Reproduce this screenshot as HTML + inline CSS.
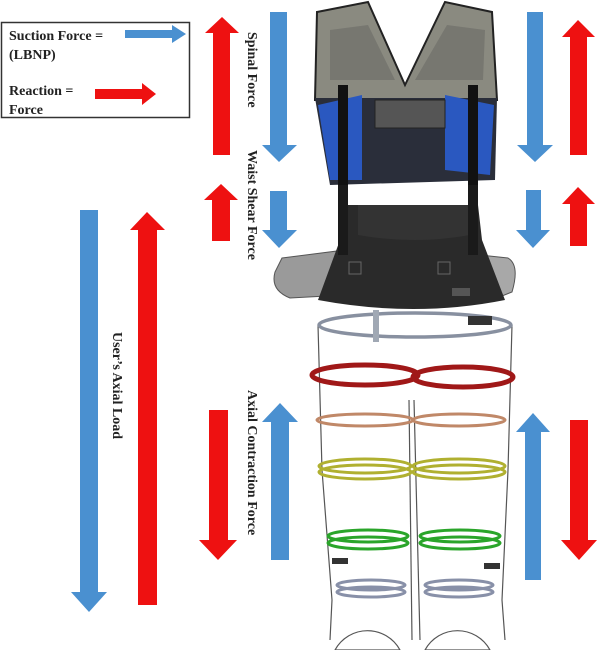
<!DOCTYPE html>
<html><head><meta charset="utf-8"><style>
html,body{margin:0;padding:0;background:#fff;}
svg{display:block;}
text{font-family:"Liberation Serif",serif;font-weight:bold;fill:#222;}
</style></head><body>
<svg width="606" height="650" viewBox="0 0 606 650" xmlns="http://www.w3.org/2000/svg">
<defs>
<g id="none"></g>
</defs>
<!-- Legend -->
<rect x="1.5" y="22.5" width="188" height="95" fill="#fff" stroke="#333" stroke-width="1.5"/>
<text x="9" y="40" font-size="14">Suction Force =</text>
<text x="9" y="59" font-size="14">(LBNP)</text>
<text x="9" y="95" font-size="14">Reaction =</text>
<text x="9" y="114" font-size="14">Force</text>
<polygon points="125,30 172,30 172,25 186,34 172,43 172,38 125,38" fill="#4a90d0"/>
<polygon points="95,89 142,89 142,83 156,94 142,105 142,99 95,99" fill="#ee1111"/>

<!-- left column arrows -->
<!-- red up top -->
<polygon points="213,155 213,33 205,33 222,17 239,33 230,33 230,155" fill="#ee1111"/>
<!-- blue down top -->
<polygon points="270,12 287,12 287,145 297,145 279,162 262,145 270,145" fill="#4a90d0"/>
<!-- red up small -->
<polygon points="212,241 212,200 204,200 221,184 238,200 230,200 230,241" fill="#ee1111"/>
<!-- blue down small -->
<polygon points="270,191 287,191 287,230 297,230 279,248 262,230 270,230" fill="#4a90d0"/>
<!-- long blue down -->
<polygon points="80,210 98,210 98,592 107,592 89,612 71,592 80,592" fill="#4a90d0"/>
<!-- long red up -->
<polygon points="138,605 138,230 130,230 147,212 165,230 157,230 157,605" fill="#ee1111"/>
<!-- red down lower -->
<polygon points="209,410 228,410 228,540 237,540 218,560 199,540 209,540" fill="#ee1111"/>
<!-- blue up lower -->
<polygon points="271,560 271,422 262,422 280,403 298,422 289,422 289,560" fill="#4a90d0"/>

<!-- right column arrows -->
<polygon points="527,12 543,12 543,145 553,145 535,162 517,145 527,145" fill="#4a90d0"/>
<polygon points="570,155 570,37 562,37 578,20 595,37 587,37 587,155" fill="#ee1111"/>
<polygon points="526,190 541,190 541,230 550,230 533,248 516,230 526,230" fill="#4a90d0"/>
<polygon points="570,246 570,204 562,204 578,187 595,204 587,204 587,246" fill="#ee1111"/>
<polygon points="525,580 525,432 516,432 533,413 550,432 541,432 541,580" fill="#4a90d0"/>
<polygon points="570,420 588,420 588,540 597,540 579,560 561,540 570,540" fill="#ee1111"/>

<!-- vertical labels -->
<text transform="translate(248,32) rotate(90)" font-size="14">Spinal Force</text>
<text transform="translate(248,150) rotate(90)" font-size="14">Waist Shear Force</text>
<text transform="translate(113,332) rotate(90)" font-size="14">User’s Axial Load</text>
<text transform="translate(248,390) rotate(90)" font-size="14">Axial Contraction Force</text>

<!-- pants -->
<g fill="none" stroke="#555" stroke-width="1.2">
<path d="M318,325 L322,470 L332,600 L330,640"/>
<path d="M512,325 L508,470 L502,600 L505,640"/>
<path d="M409,400 L412,640"/>
<path d="M414,400 L420,640"/>
</g>
<path d="M335,650 A37,37 0 0 1 400,650 Z" fill="#fff" stroke="#555" stroke-width="1.2"/>
<path d="M425,650 A37,37 0 0 1 490,650 Z" fill="#fff" stroke="#555" stroke-width="1.2"/>
<ellipse cx="415" cy="325" rx="96" ry="12" fill="none" stroke="#8890a0" stroke-width="3.5"/>
<rect x="373" y="310" width="6" height="32" fill="#a0a8b4"/>
<rect x="468" y="316" width="24" height="9" fill="#333"/>
<ellipse cx="365" cy="375" rx="53" ry="10" fill="none" stroke="#a01818" stroke-width="5"/>
<ellipse cx="463" cy="377" rx="50" ry="10" fill="none" stroke="#a01818" stroke-width="5"/>
<ellipse cx="365" cy="420" rx="48" ry="6" fill="none" stroke="#c08868" stroke-width="3"/>
<ellipse cx="459" cy="420" rx="46" ry="6" fill="none" stroke="#c08868" stroke-width="3"/>
<ellipse cx="365" cy="466" rx="46" ry="7" fill="none" stroke="#b0b030" stroke-width="3"/>
<ellipse cx="365" cy="472" rx="46" ry="7" fill="none" stroke="#b0b030" stroke-width="3"/>
<ellipse cx="459" cy="466" rx="46" ry="7" fill="none" stroke="#b0b030" stroke-width="3"/>
<ellipse cx="459" cy="472" rx="46" ry="7" fill="none" stroke="#b0b030" stroke-width="3"/>
<ellipse cx="368" cy="536" rx="40" ry="6" fill="none" stroke="#2aa52a" stroke-width="3"/>
<ellipse cx="368" cy="543" rx="40" ry="6" fill="none" stroke="#2aa52a" stroke-width="3"/>
<ellipse cx="460" cy="536" rx="40" ry="6" fill="none" stroke="#2aa52a" stroke-width="3"/>
<ellipse cx="460" cy="543" rx="40" ry="6" fill="none" stroke="#2aa52a" stroke-width="3"/>
<ellipse cx="371" cy="585" rx="34" ry="5" fill="none" stroke="#8890a8" stroke-width="3"/>
<ellipse cx="371" cy="592" rx="34" ry="5" fill="none" stroke="#8890a8" stroke-width="3"/>
<ellipse cx="459" cy="585" rx="34" ry="5" fill="none" stroke="#8890a8" stroke-width="3"/>
<ellipse cx="459" cy="592" rx="34" ry="5" fill="none" stroke="#8890a8" stroke-width="3"/>
<rect x="332" y="558" width="16" height="6" fill="#333"/>
<rect x="484" y="563" width="16" height="6" fill="#333"/>

<!-- side gray pieces -->
<path d="M282,258 L345,250 L345,295 L290,298 Q270,290 275,272 Z" fill="#9a9a9a" stroke="#555"/>
<path d="M480,255 L508,258 Q520,265 512,292 L492,300 L480,300 Z" fill="#a8a8a8" stroke="#555"/>
<!-- belt -->
<path d="M348,205 L478,205 L482,240 L505,300 Q415,318 318,300 L340,240 Z" fill="#2a2a2a"/>
<path d="M358,205 L470,205 L470,235 Q415,245 358,235 Z" fill="#333"/>
<rect x="349" y="262" width="12" height="12" fill="none" stroke="#666"/>
<rect x="438" y="262" width="12" height="12" fill="none" stroke="#666"/>
<rect x="452" y="288" width="18" height="8" fill="#555"/>
<!-- straps -->
<rect x="338" y="90" width="10" height="165" fill="#1a1a1a"/>
<rect x="468" y="90" width="10" height="165" fill="#1a1a1a"/>

<!-- vest -->
<path d="M317,12 L368,2 L405,85 L445,2 L492,12 L497,100 L315,100 Z" fill="#8a8a80" stroke="#222" stroke-width="2"/>
<path d="M330,30 L368,25 L395,80 L330,80 Z" fill="#777770"/>
<path d="M415,80 L447,25 L485,30 L483,80 Z" fill="#777770"/>
<path d="M315,98 L497,98 L495,180 L330,185 Z" fill="#2a2e3a"/>
<path d="M318,105 L362,95 L362,180 L330,180 Z" fill="#2a58c0"/>
<path d="M445,95 L494,105 L490,175 L445,170 Z" fill="#2a58c0"/>
<rect x="375" y="100" width="70" height="28" fill="#555" stroke="#222"/>
<rect x="338" y="85" width="10" height="100" fill="#111"/>
<rect x="468" y="85" width="10" height="100" fill="#111"/>
</svg>
</body></html>
